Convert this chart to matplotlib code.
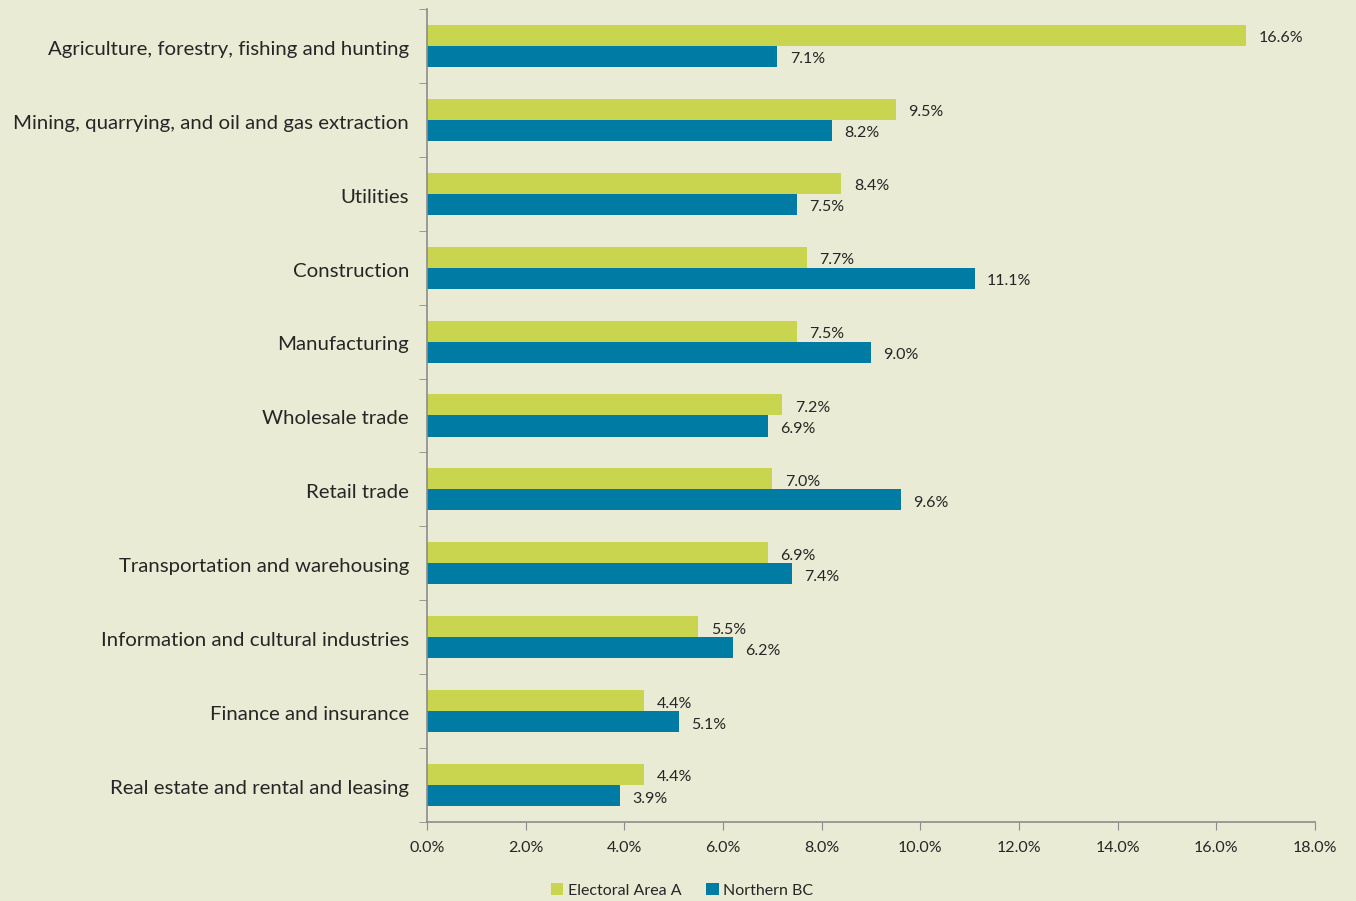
import numpy as np
import matplotlib.pyplot as plt
from matplotlib.ticker import FixedLocator

plt.rcParams['font.family'] = ['Lato', 'DejaVu Sans']

categories = [
    "Agriculture, forestry, fishing and hunting",
    "Mining, quarrying, and oil and gas extraction",
    "Utilities",
    "Construction",
    "Manufacturing",
    "Wholesale trade",
    "Retail trade",
    "Transportation and warehousing",
    "Information and cultural industries",
    "Finance and insurance",
    "Real estate and rental and leasing",
]
area_a = [16.6, 9.5, 8.4, 7.7, 7.5, 7.2, 7.0, 6.9, 5.5, 4.4, 4.4]
northern_bc = [7.1, 8.2, 7.5, 11.1, 9.0, 6.9, 9.6, 7.4, 6.2, 5.1, 3.9]

bg = '#E9EBD4'
green = '#C9D54F'
blue = '#007BA4'
grey = '#8C8C8C'
txt = '#262626'

fig = plt.figure(figsize=(13.56, 9.01), dpi=100)
fig.patch.set_facecolor(bg)
ax = fig.add_axes([0.315, 0.0877, 0.6548, 0.9023])
ax.set_facecolor(bg)

n = len(categories)
y = np.arange(n)[::-1]
h = 0.285
ax.barh(y + h / 2, area_a, height=h, color=green, label='Electoral Area A')
ax.barh(y - h / 2, northern_bc, height=h, color=blue, label='Northern BC')

# value labels sit a touch low, like the original
dy = 0.04
for yi, a, b in zip(y, area_a, northern_bc):
    ax.text(a + 0.25, yi + h / 2 - dy, f'{a:.1f}%', va='center', ha='left', fontsize=11.5, color=txt)
    ax.text(b + 0.25, yi - h / 2 - dy, f'{b:.1f}%', va='center', ha='left', fontsize=11.5, color=txt)

ax.set_xlim(0, 18)
ax.set_ylim(-0.5, n - 0.5)
ax.set_xticks(np.arange(0, 18.1, 2))
ax.set_xticklabels([f'{v:.1f}%' for v in np.arange(0, 18.1, 2)], fontsize=11.5, color=txt)
ax.set_yticks(y - 0.025)
ax.set_yticklabels(categories, fontsize=14.7, color=txt)
ax.yaxis.set_minor_locator(FixedLocator(np.arange(-0.5, n, 1)))
ax.tick_params(axis='y', which='major', length=0, pad=13)
ax.tick_params(axis='y', which='minor', length=6, color=grey, direction='out')
ax.tick_params(axis='x', length=6, color=grey, direction='out', pad=8)

for s in ['top', 'right']:
    ax.spines[s].set_visible(False)
for s in ['left', 'bottom']:
    ax.spines[s].set_color(grey)
    ax.spines[s].set_linewidth(1.2)

leg = fig.legend(loc='center', bbox_to_anchor=(0.503, 0.012), ncol=2, frameon=False,
                 fontsize=11.5, handlelength=0.8, handleheight=0.8, handletextpad=0.3,
                 columnspacing=1.5)
for t in leg.get_texts():
    t.set_color(txt)

fig.savefig('out.png', dpi=100, facecolor=bg)
